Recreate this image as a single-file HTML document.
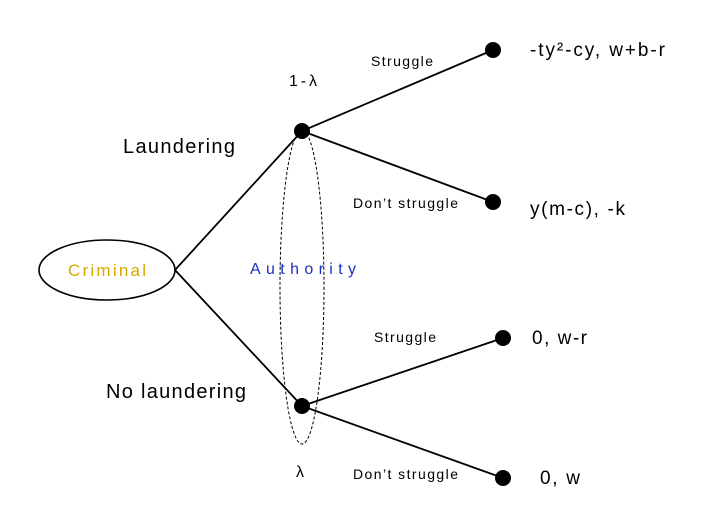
<!DOCTYPE html>
<html><head><meta charset="utf-8"><style>
html,body{margin:0;padding:0;background:#fff;}
svg text{font-family:"Liberation Sans",sans-serif;fill:#000;}
</style></head><body>
<svg width="701" height="520" viewBox="0 0 701 520" xmlns="http://www.w3.org/2000/svg">
<ellipse cx="107" cy="270" rx="68" ry="30" fill="none" stroke="#000" stroke-width="1.6"/>
<text x="68" y="276" font-size="17" textLength="78" style="fill:#d4a800">Criminal</text>
<g stroke="#000" stroke-width="1.8" fill="none">
<line x1="175" y1="270" x2="302" y2="131"/>
<line x1="175" y1="270" x2="302" y2="406"/>
<line x1="302" y1="131" x2="493" y2="50"/>
<line x1="302" y1="131" x2="493" y2="202"/>
<line x1="302" y1="406" x2="503" y2="338"/>
<line x1="302" y1="406" x2="503" y2="478"/>
</g>
<ellipse cx="302" cy="287" rx="22" ry="157" fill="none" stroke="#000" stroke-width="1" stroke-dasharray="3,2"/>
<g fill="#000">
<circle cx="302" cy="131" r="8"/><circle cx="302" cy="406" r="8"/>
<circle cx="493" cy="50" r="8"/><circle cx="493" cy="202" r="8"/>
<circle cx="503" cy="338" r="8"/><circle cx="503" cy="478" r="8"/>
</g>
<text x="250" y="274" font-size="16" textLength="106" style="fill:#1a2fc4">Authority</text>
<text x="123" y="153" font-size="20" textLength="112">Laundering</text>
<text x="106" y="398" font-size="20" textLength="140">No laundering</text>
<text x="289" y="86" font-size="16" textLength="28">1-λ</text>
<text x="296" y="477" font-size="16">λ</text>
<text x="371" y="66" font-size="14" textLength="62">Struggle</text>
<text x="353" y="208" font-size="14" textLength="105">Don’t struggle</text>
<text x="374" y="342" font-size="14" textLength="62">Struggle</text>
<text x="353" y="479" font-size="14" textLength="105">Don’t struggle</text>
<text x="530" y="56" font-size="19" textLength="135">-ty²-cy, w+b-r</text>
<text x="530" y="215" font-size="19" textLength="95">y(m-c), -k</text>
<text x="532" y="344" font-size="19" textLength="55">0, w-r</text>
<text x="540" y="484" font-size="19" textLength="40">0, w</text>
</svg>
</body></html>
